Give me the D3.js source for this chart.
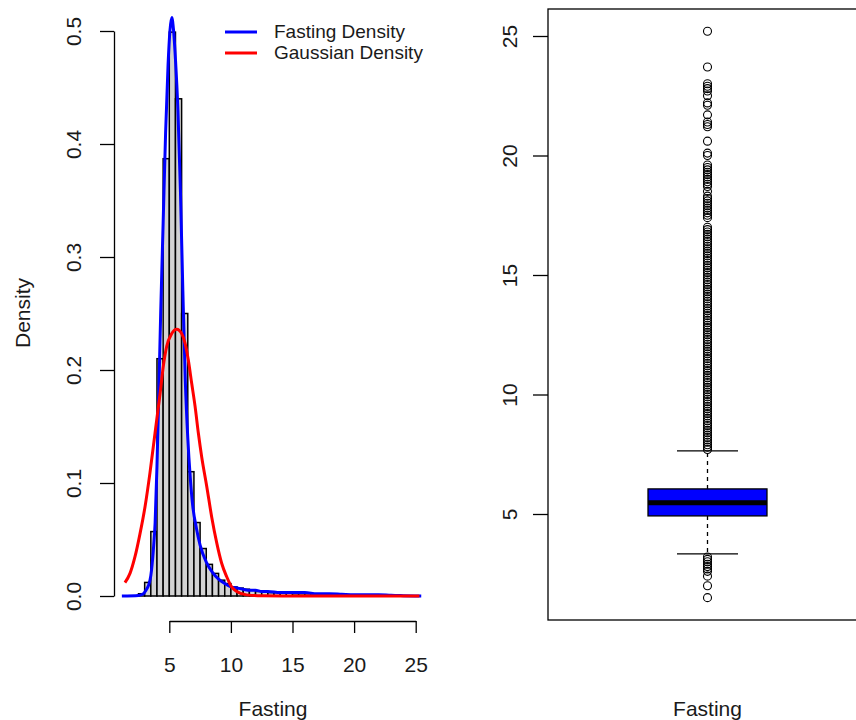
<!DOCTYPE html>
<html>
<head>
<meta charset="utf-8">
<script src="https://cdn.jsdelivr.net/npm/d3@7"></script>
<style>
html,body{margin:0;padding:0;background:#fff;}
svg{display:block;font-family:"Liberation Sans",Arial,sans-serif;}
</style>
</head>
<body>
<svg id="chart" width="856" height="720"></svg>
<script>
// ---------- Data ----------
// Histogram of Fasting: bin starts (width 0.5) and densities
const histBinStart = [2.5,3.0,3.5,4.0,4.5,5.0,5.5,6.0,6.5,7.0,7.5,8.0,8.5,9.0,9.5,10.0,10.5,11.0,11.5,12.0,12.5,13.0,13.5,14.0,14.5,15.0,15.5,16.0,17.0,18.0,19.0,20.0,21.0,22.0];
const histDensity  = [0.002,0.012,0.057,0.21,0.387,0.499,0.44,0.25,0.11,0.065,0.042,0.028,0.02,0.014,0.011,0.008,0.007,0.006,0.005,0.004,0.004,0.003,0.003,0.003,0.003,0.002,0.002,0.002,0.002,0.001,0.001,0.001,0.001,0.001];
const histBinWidth = 0.5;

// Kernel density (blue)
const kdeX = [1.15,2.5,2.9,3.1,3.3,3.5,3.7,3.85,4.0,4.15,4.3,4.5,4.7,4.9,5.05,5.2,5.35,5.5,5.7,5.9,6.1,6.3,6.5,6.7,6.9,7.2,7.5,8.0,8.5,9.0,9.5,10.0,10.5,11.0,11.5,12.0,12.5,13.0,14.0,15.0,16.0,17.0,18.0,19.0,20.0,21.0,22.0,23.0,24.0,25.45];
const kdeY = [0,0.0005,0.002,0.005,0.009,0.018,0.04,0.065,0.115,0.18,0.25,0.33,0.41,0.47,0.50,0.512,0.50,0.475,0.43,0.36,0.27,0.19,0.14,0.105,0.08,0.06,0.045,0.03,0.021,0.015,0.011,0.008,0.007,0.006,0.005,0.005,0.004,0.004,0.003,0.003,0.003,0.002,0.002,0.0015,0.001,0.001,0.0012,0.0006,0.0003,0];

// Gaussian density (red)
const gaussX = [1.40,1.81,2.22,2.62,3.03,3.43,3.70,3.98,4.25,4.51,4.79,5.19,5.60,6.01,6.27,6.54,6.82,7.09,7.36,7.63,8.04,8.44,8.85,9.25,9.66,10.06,10.47,11.28,12.5,15.0,20.0,25.3];
const gaussY = [0.0118,0.020,0.035,0.055,0.079,0.109,0.132,0.156,0.179,0.203,0.221,0.232,0.236,0.232,0.224,0.209,0.188,0.168,0.144,0.123,0.097,0.070,0.047,0.029,0.017,0.008,0.004,0.001,0.0002,0,0,0];

const xTicksLeft = [5,10,15,20,25];
const yTicksLeft = [0.0,0.1,0.2,0.3,0.4,0.5];
const legendLabels = ["Fasting Density","Gaussian Density"];
const legendColors = ["#0000ff","#ff0000"];

// Boxplot of Fasting
const boxCategory = "Fasting";
const boxStats = {lowerWhisker:3.33, q1:4.92, median:5.47, q3:6.05, upperWhisker:7.64};
const outliers = [1.5,2.0,2.4,2.6,2.7,2.8,2.9,3.0,3.1,3.2,
  7.7,7.8,7.9,8.0,8.1,8.2,8.3,8.4,8.5,8.6,8.7,8.8,8.9,9.0,9.1,9.2,9.3,9.4,9.5,9.6,9.7,9.8,9.9,
  10.0,10.1,10.2,10.3,10.4,10.5,10.6,10.7,10.8,10.9,11.0,11.1,11.2,11.3,11.4,11.5,11.6,11.7,11.8,11.9,
  12.0,12.1,12.2,12.3,12.4,12.5,12.6,12.7,12.8,12.9,13.0,13.1,13.2,13.3,13.4,13.5,13.6,13.7,13.8,13.9,
  14.0,14.1,14.2,14.3,14.4,14.5,14.6,14.7,14.8,14.9,15.0,15.1,15.2,15.3,15.4,15.5,15.6,15.7,15.8,15.9,
  16.0,16.1,16.2,16.3,16.4,16.5,16.6,16.7,16.8,16.9,17.0,
  17.4,17.5,17.6,17.7,17.8,17.9,18.0,18.1,18.2,18.3,18.5,18.7,18.8,18.9,19.0,19.1,19.2,19.3,19.4,19.5,19.6,
  20.0,20.1,20.6,21.2,21.3,21.4,21.7,22.1,22.2,22.5,22.7,22.8,22.9,23.0,23.7,25.2];
const yTicksRight = [5,10,15,20,25];

// ---------- Drawing ----------
const svg = d3.select("#chart");
const FONT = 21;
const TXT = "#1a1a1a";

// Left panel scales
const xL = d3.scaleLinear().domain([5,25]).range([169.3,415.7]);
const yL = d3.scaleLinear().domain([0,0.5]).range([596,31]);

// Histogram
svg.append("g").selectAll("rect").data(histBinStart).join("rect")
  .attr("x", (d)=>xL(d))
  .attr("width", xL(histBinWidth)-xL(0))
  .attr("y", (d,i)=>yL(histDensity[i]))
  .attr("height", (d,i)=>yL(0)-yL(histDensity[i]))
  .attr("fill","#d3d3d3").attr("stroke","#000").attr("stroke-width",1.5);

// Lines
const lineGen = d3.line().x(d=>xL(d[0])).y(d=>yL(d[1])).curve(d3.curveMonotoneX);
svg.append("path").datum(kdeX.map((x,i)=>[x,kdeY[i]]))
  .attr("d", lineGen).attr("fill","none").attr("stroke","#0000ff").attr("stroke-width",3);
svg.append("path").datum(gaussX.map((x,i)=>[x,gaussY[i]]))
  .attr("d", lineGen).attr("fill","none").attr("stroke","#ff0000").attr("stroke-width",3);

// Left axes
const axL = svg.append("g").attr("transform","translate(114,0)")
  .call(d3.axisLeft(yL).tickValues(yTicksLeft).tickSize(14).tickSizeOuter(0).tickFormat(d3.format(".1f")));
axL.select(".domain").attr("stroke","#000").attr("stroke-width",1.3);
axL.selectAll(".tick line").attr("stroke","#000").attr("stroke-width",1.3);
axL.selectAll(".tick text").attr("x",null).attr("dy",null)
  .attr("transform","translate(-33,0) rotate(-90)").attr("text-anchor","middle")
  .attr("font-size",FONT).attr("font-family","Liberation Sans, Arial").attr("fill",TXT);

const axB = svg.append("g").attr("transform","translate(0,621)")
  .call(d3.axisBottom(xL).tickValues(xTicksLeft).tickSize(12).tickSizeOuter(0));
axB.select(".domain").attr("stroke","#000").attr("stroke-width",1.3);
axB.selectAll(".tick line").attr("stroke","#000").attr("stroke-width",1.3);
axB.selectAll(".tick text").attr("y",51).attr("dy",null)
  .attr("font-size",FONT).attr("font-family","Liberation Sans, Arial").attr("fill",TXT);

svg.append("text").attr("transform","translate(30,313) rotate(-90)").attr("text-anchor","middle")
  .attr("font-size",FONT).attr("fill",TXT).text("Density");
svg.append("text").attr("x",273).attr("y",716).attr("text-anchor","middle")
  .attr("font-size",FONT).attr("fill",TXT).text("Fasting");

// Legend
const leg = svg.append("g");
legendLabels.forEach((lab,i)=>{
  const y = 32 + i*21;
  leg.append("line").attr("x1",225).attr("x2",257).attr("y1",y).attr("y2",y)
    .attr("stroke",legendColors[i]).attr("stroke-width",3);
  leg.append("text").attr("x",274).attr("y",y+6).attr("font-size",19).attr("fill",TXT).text(lab);
});

// Right panel
const yR = d3.scaleLinear().domain([5,25]).range([514,36]);
const xR = d3.scaleBand().domain([boxCategory]).range([548,867]);
const cx = xR(boxCategory) + xR.bandwidth()/2;
const boxW = xR.bandwidth()*0.373;
const capW = boxW*0.513;

svg.append("rect").attr("x",548).attr("y",9).attr("width",400).attr("height",611)
  .attr("fill","none").attr("stroke","#000").attr("stroke-width",1.3);

const axR = svg.append("g").attr("transform","translate(548,0)")
  .call(d3.axisLeft(yR).tickValues(yTicksRight).tickSize(15).tickSizeOuter(0));
axR.select(".domain").remove();
axR.selectAll(".tick line").attr("stroke","#000").attr("stroke-width",1.3);
axR.selectAll(".tick text").attr("x",null).attr("dy",null)
  .attr("transform","translate(-31,0) rotate(-90)").attr("text-anchor","middle")
  .attr("font-size",FONT).attr("font-family","Liberation Sans, Arial").attr("fill",TXT);

const bx = svg.append("g");
// whiskers (dashed)
bx.append("line").attr("x1",cx).attr("x2",cx).attr("y1",yR(boxStats.q3)).attr("y2",yR(boxStats.upperWhisker))
  .attr("stroke","#000").attr("stroke-width",1.3).attr("stroke-dasharray","4,4");
bx.append("line").attr("x1",cx).attr("x2",cx).attr("y1",yR(boxStats.q1)).attr("y2",yR(boxStats.lowerWhisker))
  .attr("stroke","#000").attr("stroke-width",1.3).attr("stroke-dasharray","4,4");
// caps
[boxStats.upperWhisker, boxStats.lowerWhisker].forEach(v=>{
  bx.append("line").attr("x1",cx-capW/2).attr("x2",cx+capW/2).attr("y1",yR(v)).attr("y2",yR(v))
    .attr("stroke","#000").attr("stroke-width",1.3);
});
// box
bx.append("rect").attr("x",cx-boxW/2).attr("width",boxW)
  .attr("y",yR(boxStats.q3)).attr("height",yR(boxStats.q1)-yR(boxStats.q3))
  .attr("fill","#0000ff").attr("stroke","#000").attr("stroke-width",1.3);
bx.append("line").attr("x1",cx-boxW/2).attr("x2",cx+boxW/2)
  .attr("y1",yR(boxStats.median)).attr("y2",yR(boxStats.median))
  .attr("stroke","#000").attr("stroke-width",5);
// outliers
bx.append("g").selectAll("circle").data(outliers).join("circle")
  .attr("cx",cx).attr("cy",d=>yR(d)).attr("r",4)
  .attr("fill","none").attr("stroke","#000").attr("stroke-width",1.1);

svg.append("text").attr("x",cx).attr("y",716).attr("text-anchor","middle")
  .attr("font-size",FONT).attr("fill",TXT).text(boxCategory);
</script>
</body>
</html>
